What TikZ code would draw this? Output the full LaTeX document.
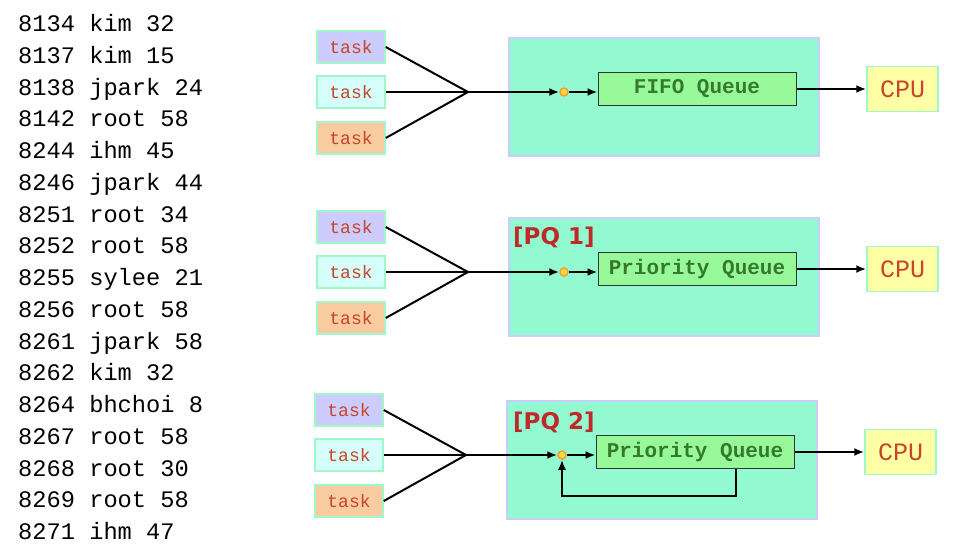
\documentclass[tikz,border=0pt]{standalone}
\usepackage{fontspec}
\setmonofont{Liberation Mono}
\newfontfamily\pqfont{DejaVu Sans}
\usetikzlibrary{arrows.meta}
\definecolor{lav}{HTML}{CCCCFF}
\definecolor{icecyan}{HTML}{D6FFFC}
\definecolor{peach}{HTML}{F8CCA0}
\definecolor{mint}{HTML}{93F9D0}
\definecolor{edgegreen}{HTML}{A0F8C8}
\definecolor{qgreen}{HTML}{98F99A}
\definecolor{qtext}{HTML}{347A2C}
\definecolor{cpuyellow}{HTML}{FFFFA6}
\definecolor{redtext}{HTML}{C8442A}
\definecolor{pqred}{HTML}{C0282A}
\definecolor{dotorange}{HTML}{F0A030}
\definecolor{dotyellow}{HTML}{FFD84A}

\begin{document}
\begin{tikzpicture}[x=1pt,y=-1pt,
	task/.style={draw=edgegreen,line width=1.5pt,minimum width=68pt,minimum height=32pt,inner sep=0pt,
		font=\ttfamily\fontsize{18}{18}\selectfont,text=redtext},
	holder/.style={draw=lav,line width=1.5pt,fill=mint,minimum width=310pt,minimum height=118pt},
	queue/.style={draw=black!80,line width=1pt,fill=qgreen,minimum width=198pt,minimum height=33pt,inner sep=0pt,
		font=\ttfamily\bfseries\fontsize{21}{21}\selectfont,text=qtext},
	cpu/.style={draw=edgegreen,line width=1.5pt,fill=cpuyellow,minimum width=71pt,minimum height=45pt,inner sep=0pt,
		font=\ttfamily\fontsize{25}{25}\selectfont,text=redtext},
	mergedot/.style={circle,draw=dotorange,fill=dotyellow,line width=1.5pt,minimum size=8pt,inner sep=0pt},
	pq/.style={anchor=base west,inner sep=0pt,font=\pqfont\bfseries\fontsize{23}{23}\selectfont,text=pqred},
	arr/.style={-{Latex[length=10pt,width=8pt]},line width=2pt},
	wire/.style={line width=2pt}]
	\useasboundingbox (0,0) rectangle (956,556);
	% process list
	\node[anchor=base west,inner sep=0pt,align=left,font=\ttfamily\fontsize{23.7}{31.75}\selectfont] (procs) at (18,539.5)
	{8134 kim 32\\8137 kim 15\\8138 jpark 24\\8142 root 58\\8244 ihm 45\\8246 jpark 44\\8251 root 34\\8252 root 58\\
		8255 sylee 21\\8256 root 58\\8261 jpark 58\\8262 kim 32\\8264 bhchoi 8\\8267 root 58\\8268 root 30\\8269 root 58\\8271 ihm 47};
	% three schedulers
	\foreach \g/\y/\dx/\qname in {1/92/0/{FIFO Queue},2/272/0/{Priority Queue},3/455/-2/{Priority Queue}}
	{
		\node[holder] (box\g) at (664+\dx,\y+5) {};
		\node[task,fill=lav] (ta\g) at (351+\dx,\y-45) {task};
		\node[task,fill=icecyan] (tb\g) at (351+\dx,\y) {task};
		\node[task,fill=peach] (tc\g) at (351+\dx,\y+46) {task};
		\coordinate (m\g) at (468+\dx,\y);
		\node[mergedot] (dot\g) at (564+\dx,\y) {};
		\node[queue] (q\g) at (697+\dx,\y-3) {\qname};
		\node[cpu] (cpu\g) at (902.5+\dx,\y-3) {CPU};
		\draw[wire] (ta\g.east) -- (m\g) (tc\g.east) -- (m\g);
		\draw[arr] (tb\g.east) -- (m\g) -- (dot\g);
		\draw[arr] (dot\g) -- (dot\g -| q\g.west);
		\draw[arr] (q\g.east) -- (q\g.east -| cpu\g.west);
	}
	\node[pq] (pq1) at (513,244) {[PQ 1]};
	\node[pq] (pq2) at (513,429) {[PQ 2]};
	% feedback into the second priority queue
	\draw[arr] ([xshift=40.5pt]q3.south) -- ++(0,27) -| (dot3);
\end{tikzpicture}
\end{document}
